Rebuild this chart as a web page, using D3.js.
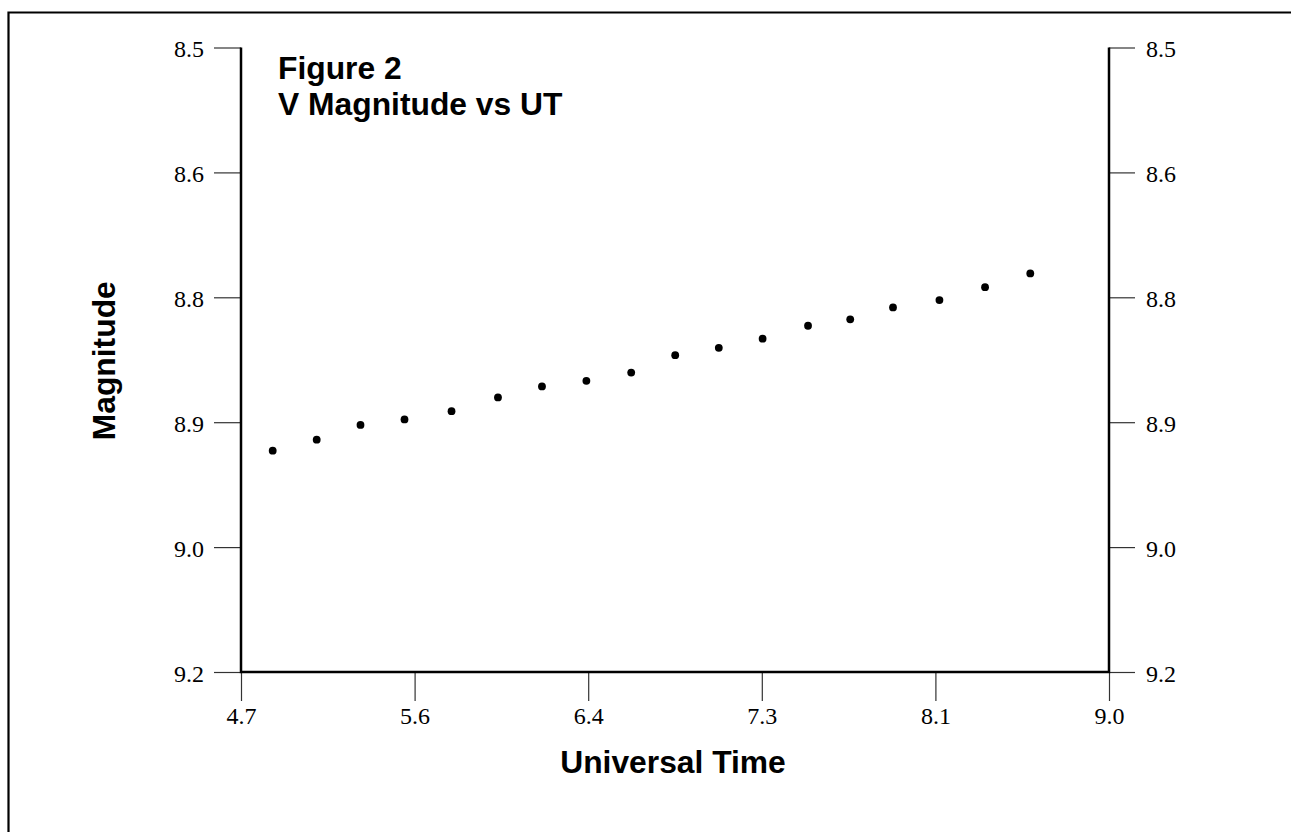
<!DOCTYPE html>
<html>
<head>
<meta charset="utf-8">
<script src="https://cdn.jsdelivr.net/npm/d3@7"></script>
<style>
    html, body { margin: 0; padding: 0; background: #fff; overflow: hidden; }
    svg { display: block; }
</style>
</head>
<body>
<svg id="chart" width="1291" height="832"></svg>
<script>
// Observations: UT (hours) and V magnitude
var utHours = [4.857, 5.075, 5.292, 5.510, 5.743, 5.973, 6.191, 6.411, 6.633,
               6.851, 7.067, 7.284, 7.509, 7.718, 7.930, 8.160, 8.386, 8.610];
var vMag = [8.939, 8.927, 8.911, 8.905, 8.896, 8.881, 8.869, 8.863, 8.854,
            8.835, 8.827, 8.817, 8.803, 8.796, 8.783, 8.775, 8.761, 8.746];

var xDomain = [4.7, 9.0];
var yDomain = [8.5, 9.18];
var tickCount = 6;
var titleLines = ["Figure 2", "V Magnitude vs UT"];
var xTitle = "Universal Time";
var yTitle = "Magnitude";

(function () {
    var svg = d3.select("#chart"),
        left = 241,
        right = 1109,
        top = 47.5,
        bottom = 672;

    function evenTicks(dom) {
        return d3.range(tickCount).map(function (i) {
            return dom[0] + i * (dom[1] - dom[0]) / (tickCount - 1);
        });
    }

    var x = d3.scaleLinear().domain(xDomain).range([left, right]);
    var y = d3.scaleLinear().domain(yDomain).range([top, bottom]);
    var fmt = d3.format(".1f");

    // outer frame (runs off the page right and bottom)
    svg.append("path")
        .attr("d", "M8.5,900V12.5H1400")
        .attr("fill", "none")
        .attr("stroke", "#000")
        .attr("stroke-width", 2.2);

    function styleAxis(g) {
        g.select(".domain").remove();
        g.attr("font-size", null).attr("font-family", null);
        g.selectAll(".tick line").attr("stroke", "#333").attr("stroke-width", 1.2);
        g.selectAll(".tick text")
            .attr("fill", "#000")
            .style("font-family", "'Liberation Serif', 'Times New Roman', serif")
            .style("font-size", "24px");
    }

    svg.append("g")
        .attr("transform", "translate(" + left + ",0)")
        .call(d3.axisLeft(y).tickValues(evenTicks(yDomain)).tickFormat(fmt).tickSizeOuter(0).tickSize(27).tickPadding(10))
        .call(styleAxis)
        .selectAll(".tick text").attr("dy", "0.38em");

    svg.append("g")
        .attr("transform", "translate(" + right + ",0)")
        .call(d3.axisRight(y).tickValues(evenTicks(yDomain)).tickFormat(fmt).tickSizeOuter(0).tickSize(26).tickPadding(11))
        .call(styleAxis)
        .selectAll(".tick text").attr("dy", "0.38em");

    svg.append("g")
        .attr("transform", "translate(0," + bottom + ")")
        .call(d3.axisBottom(x).tickValues(evenTicks(xDomain)).tickFormat(fmt).tickSizeOuter(0).tickSize(29).tickPadding(7))
        .call(styleAxis)
        .selectAll(".tick text").attr("dy", "0.68em");

    // axis lines: left, bottom, right
    svg.append("path")
        .attr("d", "M" + left + "," + top + "V" + bottom + "H" + right + "V" + top)
        .attr("fill", "none")
        .attr("stroke", "#000")
        .attr("stroke-width", 2.5);

    svg.append("g").selectAll("circle")
        .data(utHours)
        .enter().append("circle")
        .attr("cx", function (d) { return x(d); })
        .attr("cy", function (d, i) { return y(vMag[i]); })
        .attr("r", 3.9)
        .attr("fill", "#000");

    var bold = "'Liberation Sans', Arial, Helvetica, sans-serif";

    svg.append("g").selectAll("text")
        .data(titleLines)
        .enter().append("text")
        .attr("x", 278)
        .attr("y", function (d, i) { return 79 + i * 36; })
        .style("font-family", bold)
        .style("font-weight", "bold")
        .style("font-size", "31.8px")
        .text(function (d) { return d; });

    svg.append("text")
        .attr("x", (left + right) / 2 - 2)
        .attr("y", 773)
        .attr("text-anchor", "middle")
        .style("font-family", bold)
        .style("font-weight", "bold")
        .style("font-size", "31.8px")
        .text(xTitle);

    svg.append("text")
        .attr("transform", "translate(115," + ((top + bottom) / 2 + 1) + ") rotate(-90)")
        .attr("text-anchor", "middle")
        .style("font-family", bold)
        .style("font-weight", "bold")
        .style("font-size", "31.8px")
        .text(yTitle);
})();
</script>
</body>
</html>
